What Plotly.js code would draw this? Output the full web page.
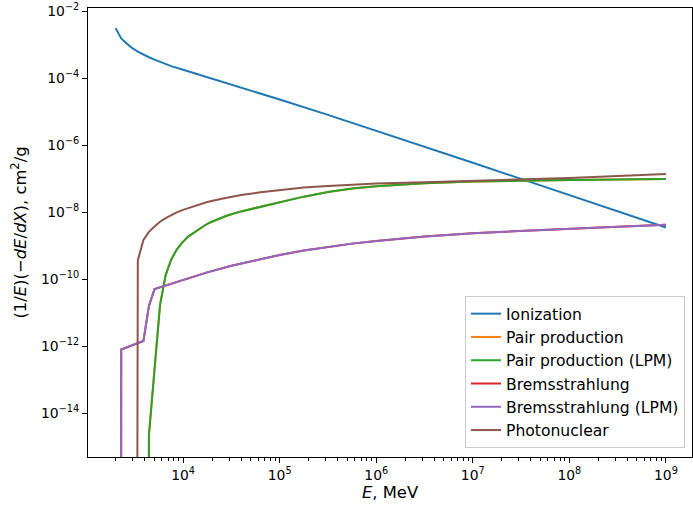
<!DOCTYPE html>
<html>
<head>
<meta charset="utf-8">
<script src="https://cdn.plot.ly/plotly-3.0.1.min.js"></script>
<style>html,body{margin:0;padding:0;background:#fff;}#chart{width:693px;height:509px;}</style>
</head>
<body>
<div id="chart"></div>
<script>
// Energies in MeV, values in cm^2/g (0 = no contribution)
const E_ion = [2000, 2285, 2606, 2979, 3396, 3882, 4426, 5058, 5768, 6592, 7516, 1e4, 3.162e4, 1e5, 3.162e5, 1e6, 3.162e6, 1e7, 3.162e7, 1e8, 3.162e8, 1e9];
const ionization = [3.16e-3, 1.55e-3, 1.10e-3, 7.94e-4, 6.31e-4, 5.13e-4, 4.27e-4, 3.63e-4, 3.09e-4, 2.66e-4, 2.32e-4, 1.80e-4, 6.61e-5, 2.34e-5, 8.13e-6, 2.75e-6, 9.12e-7, 3.02e-7, 1.0e-7, 3.24e-8, 1.07e-8, 3.55e-9];

const E_pair = [2000, 2285, 2606, 2979, 3396, 3882, 4426, 5058, 5768, 6592, 7516, 8590, 9795, 11190, 12770, 14590, 16670, 19010, 22910, 28180, 39810, 63100, 1e5, 1.778e5, 3.162e5, 5.623e5, 1e6, 1.778e6, 3.162e6, 1e7, 3.162e7, 1e8, 1e9];
const pairProduction = [0, 0, 0, 0, 0, 0, 2.24e-15, 2.09e-13, 1.74e-11, 1.35e-10, 3.89e-10, 7.76e-10, 1.26e-9, 1.86e-9, 2.45e-9, 3.16e-9, 4.07e-9, 5.01e-9, 6.31e-9, 7.94e-9, 1.07e-8, 1.48e-8, 2.0e-8, 2.95e-8, 4.07e-8, 5.13e-8, 6.03e-8, 6.76e-8, 7.41e-8, 8.32e-8, 8.91e-8, 9.33e-8, 1.0e-7];
const pairProductionLPM = [0, 0, 0, 0, 0, 0, 2.24e-15, 2.09e-13, 1.74e-11, 1.35e-10, 3.89e-10, 7.76e-10, 1.26e-9, 1.86e-9, 2.45e-9, 3.16e-9, 4.07e-9, 5.01e-9, 6.31e-9, 7.94e-9, 1.07e-8, 1.48e-8, 2.0e-8, 2.95e-8, 4.07e-8, 5.13e-8, 6.03e-8, 6.76e-8, 7.41e-8, 8.32e-8, 8.91e-8, 9.33e-8, 1.0e-7];

const E_brems = [2000, 2285, 3882, 4426, 5058, 7079, 1e4, 17780, 31620, 56230, 1e5, 1.778e5, 3.162e5, 5.623e5, 1e6, 3.162e6, 1e7, 3.162e7, 1e8, 3.162e8, 1e9];
const bremsstrahlung = [0, 8.13e-13, 1.45e-12, 1.62e-11, 5.13e-11, 7.08e-11, 9.77e-11, 1.62e-10, 2.57e-10, 3.80e-10, 5.37e-10, 7.24e-10, 9.33e-10, 1.17e-9, 1.41e-9, 1.91e-9, 2.40e-9, 2.82e-9, 3.24e-9, 3.72e-9, 4.27e-9];
const bremsstrahlungLPM = [0, 8.13e-13, 1.45e-12, 1.62e-11, 5.13e-11, 7.08e-11, 9.77e-11, 1.62e-10, 2.57e-10, 3.80e-10, 5.37e-10, 7.24e-10, 9.33e-10, 1.17e-9, 1.41e-9, 1.91e-9, 2.40e-9, 2.82e-9, 3.24e-9, 3.72e-9, 4.27e-9];

const E_photo = [2000, 2285, 2606, 2979, 3396, 3882, 4426, 5058, 5768, 6592, 7516, 8590, 9795, 12590, 17780, 25120, 39810, 63100, 1e5, 1.778e5, 3.162e5, 5.623e5, 1e6, 3.162e6, 1e7, 3.162e7, 1e8, 3.162e8, 1e9];
const photonuclear = [0, 0, 0, 0, 3.72e-10, 1.51e-9, 2.63e-9, 3.80e-9, 5.25e-9, 6.76e-9, 8.32e-9, 1.0e-8, 1.17e-8, 1.51e-8, 2.04e-8, 2.57e-8, 3.31e-8, 3.98e-8, 4.68e-8, 5.50e-8, 6.17e-8, 6.76e-8, 7.24e-8, 7.94e-8, 8.71e-8, 9.55e-8, 1.07e-7, 1.23e-7, 1.41e-7];

const seriesNames = ["Ionization", "Pair production", "Pair production (LPM)", "Bremsstrahlung", "Bremsstrahlung (LPM)", "Photonuclear"];
const colors = ["#1f77b4", "#ff7f0e", "#2ca02c", "#d62728", "#9467bd", "#8c564b"];

const yTickVals = [1e-14, 1e-12, 1e-10, 1e-8, 1e-6, 1e-4, 1e-2];
const yTickText = ["10<sup>−14</sup>", "10<sup>−12</sup>", "10<sup>−10</sup>", "10<sup>−8</sup>", "10<sup>−6</sup>", "10<sup>−4</sup>", "10<sup>−2</sup>"];
const xTickVals = [1e4, 1e5, 1e6, 1e7, 1e8, 1e9];
const xTickText = ["10<sup>4</sup>", "10<sup>5</sup>", "10<sup>6</sup>", "10<sup>7</sup>", "10<sup>8</sup>", "10<sup>9</sup>"];

// like matplotlib's log 'clip': non-positive values become a tiny positive number
const clip = arr => arr.map(v => v > 0 ? v : 1e-300);

const xs = [E_ion, E_pair, E_pair, E_brems, E_brems, E_photo];
const ys = [ionization, pairProduction, pairProductionLPM, bremsstrahlung, bremsstrahlungLPM, photonuclear];

const traces = seriesNames.map((n, i) => ({
  x: xs[i], y: clip(ys[i]), name: n, type: 'scatter', mode: 'lines',
  line: {color: colors[i], width: 2}
}));

const axisCommon = {
  type: 'log', showline: true, mirror: true, linecolor: 'black', linewidth: 1,
  ticks: 'outside', ticklen: 5, tickwidth: 1, tickcolor: 'black',
  showgrid: false, zeroline: false, tickmode: 'array',
  tickfont: {family: 'DejaVu Sans', size: 13.9, color: 'black'}
};

const layout = {
  width: 693, height: 509,
  margin: {l: 88, r: 1, t: 8, b: 52},
  paper_bgcolor: 'white', plot_bgcolor: 'white',
  font: {family: 'DejaVu Sans', size: 13.9, color: 'black'},
  showlegend: true,
  xaxis: Object.assign({}, axisCommon, {
    range: [3.015, 9.27], tickvals: xTickVals, ticktext: xTickText,
    minor: {ticks: 'outside', ticklen: 3, tickwidth: 1, tickcolor: 'black', dtick: 'D1', showgrid: false},
    title: {text: '<i>E</i>, MeV', font: {family: 'DejaVu Sans', size: 16.4}, standoff: 3}
  }),
  yaxis: Object.assign({}, axisCommon, {
    range: [-15.3, -1.9], tickvals: yTickVals, ticktext: yTickText,
    title: {text: '(1/<i>E</i>)(−<i>dE</i>/<i>dX</i>), cm<sup>2</sup>/g', font: {family: 'DejaVu Sans', size: 16.4}, standoff: 10}
  }),
  legend: {
    x: 0.9884, xanchor: 'right', y: 0.02, yanchor: 'bottom',
    bgcolor: 'rgba(255,255,255,0.8)', bordercolor: '#cccccc', borderwidth: 1,
    font: {family: 'DejaVu Sans', size: 15.6, color: 'black'}
  }
};

Plotly.newPlot('chart', traces, layout, {displayModeBar: false, staticPlot: true});
</script>
</body>
</html>
